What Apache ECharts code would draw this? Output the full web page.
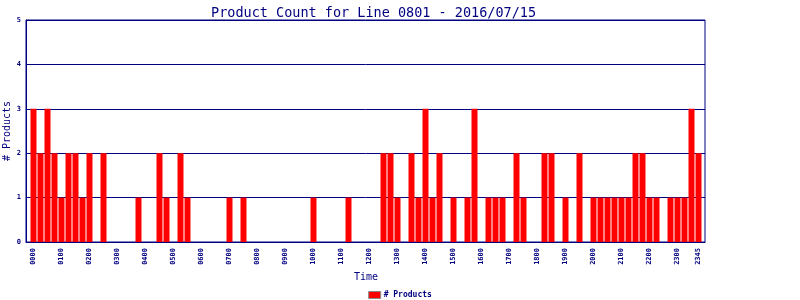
<!DOCTYPE html>
<html><head><meta charset="utf-8">
<script src="https://cdn.jsdelivr.net/npm/echarts@6/dist/echarts.min.js"></script>
<style>html,body{margin:0;padding:0;background:#fff}#c{width:800px;height:300px}</style>
</head><body><div id="c"></div>
<script>
var categories = [
"0000","0015","0030","0045","0100","0115","0130","0145","0200","0215","0230","0245",
"0300","0315","0330","0345","0400","0415","0430","0445","0500","0515","0530","0545",
"0600","0615","0630","0645","0700","0715","0730","0745","0800","0815","0830","0845",
"0900","0915","0930","0945","1000","1015","1030","1045","1100","1115","1130","1145",
"1200","1215","1230","1245","1300","1315","1330","1345","1400","1415","1430","1445",
"1500","1515","1530","1545","1600","1615","1630","1645","1700","1715","1730","1745",
"1800","1815","1830","1845","1900","1915","1930","1945","2000","2015","2030","2045",
"2100","2115","2130","2145","2200","2215","2230","2245","2300","2315","2330","2345"];
var products = [
3,2,3,2,1,2,2,1,2,0,2,0,
0,0,0,1,0,0,2,1,0,2,1,0,
0,0,0,0,1,0,1,0,0,0,0,0,
0,0,0,0,1,0,0,0,0,1,0,0,
0,0,2,2,1,0,2,1,3,1,2,0,
1,0,1,3,0,1,1,1,0,2,1,0,
0,2,2,0,1,0,2,0,1,1,1,1,
1,1,2,2,1,1,0,1,1,1,3,2];
var yTicks = [0,1,2,3,4,5];
var navy = '#000080';
var mono = 'DejaVu Sans Mono';
var chart = echarts.init(document.getElementById('c'), null, {renderer:'canvas'});
chart.setOption({
  animation:false,
  backgroundColor:'#fff',
  title:{text:'Product Count for Line 0801 - 2016/07/15', left:206, top:1,
    textStyle:{color:navy, fontFamily:mono, fontSize:13.5, fontWeight:'normal'}},
  legend:{bottom:1, left:'center', padding:[0,5], itemWidth:12, itemHeight:7, itemGap:5,
    icon:'rect', data:['# Products'],
    itemStyle:{borderColor:'#888', borderWidth:1},
    textStyle:{color:navy, fontFamily:mono, fontSize:8, fontWeight:'bold', padding:[0,0,0,-2]}},
  grid:[
    {left:26, right:95, top:20, bottom:58, show:true, borderColor:navy, borderWidth:1,
      backgroundColor:'transparent', containLabel:false, outerBoundsMode:'none'},
    {left:30, width:672, top:20, bottom:58, containLabel:false, outerBoundsMode:'none'}
  ],
  xAxis:[
    {gridIndex:0, type:'value', min:0, max:1, axisLabel:{show:false}, axisTick:{show:false},
      splitLine:{show:false}, axisLine:{show:true, lineStyle:{color:navy, width:1}}},
    {gridIndex:1, type:'category', data:categories, boundaryGap:true,
      axisLine:{show:false}, axisTick:{show:false},
      name:'Time', nameLocation:'middle', nameGap:30, nameMoveOverlap:false,
      nameTextStyle:{color:navy, fontFamily:mono, fontSize:10},
      axisLabel:{rotate:90, margin:6, color:navy, fontFamily:mono, fontSize:7, fontWeight:'bold',
        interval:function(i){return i%4===0 || i===categories.length-1;}}}
  ],
  yAxis:[
    {gridIndex:0, type:'value', min:yTicks[0], max:yTicks[yTicks.length-1], interval:1,
      axisLine:{show:true, lineStyle:{color:navy, width:1}}, axisTick:{show:false},
      splitLine:{show:true, lineStyle:{color:navy, width:1}},
      axisLabel:{color:navy, fontFamily:mono, fontSize:7, fontWeight:'bold', margin:5},
      name:'# Products', nameLocation:'middle', nameGap:14, nameMoveOverlap:false,
      nameTextStyle:{color:navy, fontFamily:mono, fontSize:10}},
    {gridIndex:1, type:'value', min:yTicks[0], max:yTicks[yTicks.length-1], interval:1, show:false,
      splitLine:{show:false}}
  ],
  series:[{name:'# Products', type:'bar', xAxisIndex:1, yAxisIndex:1, data:products,
    barWidth:6, itemStyle:{color:'#ff0000'}}]
});
</script></body></html>
